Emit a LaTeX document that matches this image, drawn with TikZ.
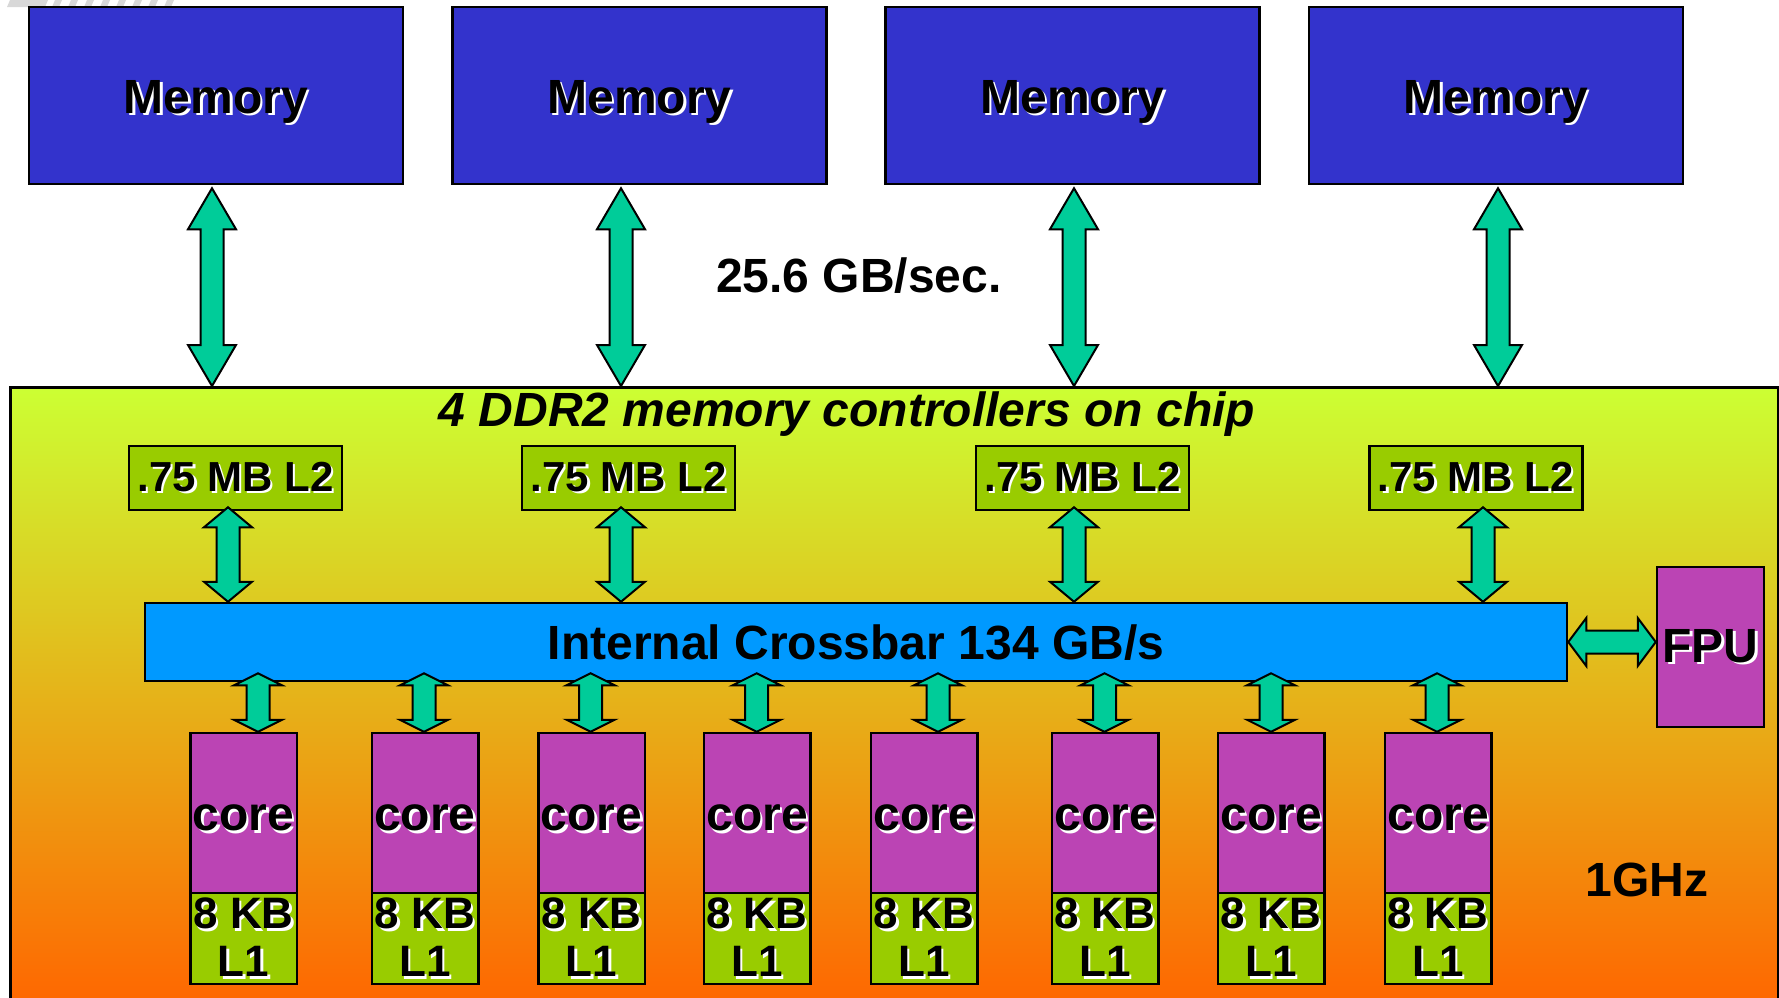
\documentclass[tikz,border=0pt]{standalone}
\usepackage{fontspec}
\setmainfont{Liberation Sans}
\usetikzlibrary{calc}
\definecolor{memblue}{HTML}{3333CC}
\definecolor{l2green}{HTML}{99CC00}
\definecolor{xbarblue}{HTML}{0099FF}
\definecolor{corepurple}{HTML}{BB44B4}
\definecolor{arrowgreen}{HTML}{00CC99}
\definecolor{chiptop}{HTML}{CCFF33}
\definecolor{chipbot}{HTML}{FF6600}
\definecolor{wmgray}{HTML}{D8D8D8}
\newcommand\sh[1]{\rlap{\kern2.5pt\raisebox{-2.5pt}{\color{white}#1}}#1}
\newcommand\fatV[3]{\draw[fat] let \p1=(#1), \p2=(#2) in
 (\x1,\y1) -- (\x1+24pt,\y1-#3) -- (\x1+11.5pt,\y1-#3) -- (\x1+11.5pt,\y2+#3) -- (\x1+24pt,\y2+#3) -- (\x1,\y2)
 -- (\x1-24pt,\y2+#3) -- (\x1-11.5pt,\y2+#3) -- (\x1-11.5pt,\y1-#3) -- (\x1-24pt,\y1-#3) -- cycle;}
\newcommand\fatH[3]{\draw[fat] let \p1=(#1), \p2=(#2) in
 (\x1,\y1) -- (\x1+#3,\y1+24pt) -- (\x1+#3,\y1+11.5pt) -- (\x2-#3,\y1+11.5pt) -- (\x2-#3,\y1+24pt) -- (\x2,\y1)
 -- (\x2-#3,\y1-24pt) -- (\x2-#3,\y1-11.5pt) -- (\x1+#3,\y1-11.5pt) -- (\x1+#3,\y1-24pt) -- cycle;}
\begin{document}
\begin{tikzpicture}[x=1pt,y=-1pt,
  box/.style={draw=black,line width=2.5pt,inner sep=0pt},
  mem/.style={box,fill=memblue,minimum width=374pt,minimum height=177pt,text height=35pt,text depth=0pt,font=\bfseries\fontsize{48}{52}\selectfont},
  ltwo/.style={box,fill=l2green,minimum width=213pt,minimum height=64pt,font=\bfseries\fontsize{42}{46}\selectfont},
  xbar/.style={box,fill=xbarblue,minimum width=1422pt,minimum height=78pt,text height=34pt,text depth=0pt,font=\bfseries\fontsize{48}{52}\selectfont},
  corebox/.style={box,fill=corepurple,minimum width=106.5pt,minimum height=160pt,text height=35pt,text depth=0pt,font=\bfseries\fontsize{48}{52}\selectfont},
  lone/.style={box,fill=l2green,minimum width=106.5pt,minimum height=91pt,align=center,font=\bfseries\fontsize{44}{48}\selectfont},
  fpubox/.style={box,fill=corepurple,minimum width=107pt,minimum height=160pt,font=\bfseries\fontsize{48}{52}\selectfont},
  chipbox/.style={draw=black,line width=2.5pt,inner sep=0pt,top color=chiptop,bottom color=chipbot},
  label/.style={inner sep=0pt,anchor=base,font=\bfseries\fontsize{48}{52}\selectfont},
  fat/.style={draw=black,fill=arrowgreen,line width=2pt,line join=miter}]
\useasboundingbox (0,0) rectangle (1779,997);
\fill[white] (0,0) rectangle (1779,997);
% faint remnant at the top left
\fill[wmgray] (7,7) -- (10,0) -- (48,0) -- (45,7) -- cycle;
\foreach \s in {52,68,84,100,116,132,148,164}
  \fill[wmgray] (\s,7) -- (\s+3,0) -- (\s+10,0) -- (\s+7,7) -- cycle;
% chip
\node[chipbox,anchor=north west,minimum width=1768pt,minimum height=620pt] (chip) at (9,386) {};
% memories
\foreach \i/\bx/\ax in {1/216/212,2/639.5/621,3/1072.5/1074,4/1496/1498}{
  \node[mem] (mem\i) at (\bx,95.5) {\sh{Memory}};
  \coordinate (ma\i) at (\ax,0);
}
\node[label] (bw) at (859,292) {25.6 GB/sec.};
\node[label,font=\bfseries\itshape\fontsize{48}{52}\selectfont] (ddr) at (847,426) {4 DDR2 memory controllers on chip};
% L2 caches
\foreach \i/\bx/\ax in {1/235.5/228,2/628.5/621,3/1082.5/1074,4/1475.75/1483}{
  \node[ltwo] (ltwo\i) at (\bx,478) {\sh{.75 MB L2}};
  \coordinate (la\i) at (\ax,0);
}
% crossbar and FPU
\node[xbar] (cb) at (856,642) {Internal Crossbar 134 GB/s};
\node[fpubox] (fpu) at (1710.5,647) {\sh{FPU}};
% cores
\foreach \i/\cx/\ax in {1/243.5/258,2/425/424,3/591.5/590.6,4/757/756.7,5/924/938,6/1105/1104.5,7/1271/1271,8/1438/1437}{
  \node[corebox] (core\i) at (\cx,813) {\sh{core}};
  \node[lone] (lone\i) at (\cx,938.5) {\sh{8 KB}\\\sh{L1}};
  \coordinate (ca\i) at (\ax,0);
}
\node[label] (ghz) at (1647,896) {1GHz};
% connectors
\foreach \i in {1,2,3,4}{
  \fatV{$(mem\i.south -| ma\i)+(0,3)$}{chip.north -| ma\i}{41pt}
  \fatV{$(ltwo\i.south -| la\i)+(0,-4)$}{cb.north -| la\i}{20pt}
}
\foreach \i in {1,...,8}{
  \fatV{$(cb.south -| ca\i)+(0,-9)$}{core\i.north -| ca\i}{12pt}
}
\fatH{cb.east}{fpu.west}{18pt}
\end{tikzpicture}
\end{document}
